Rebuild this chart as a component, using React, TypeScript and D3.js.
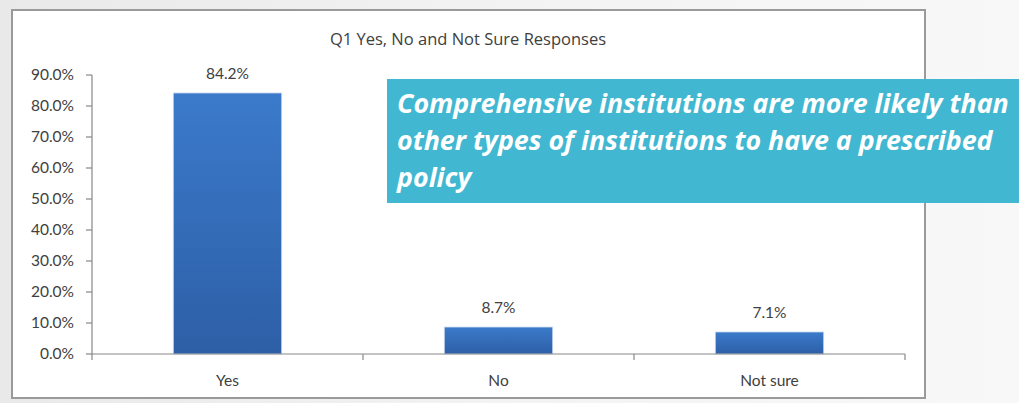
import React from "react";
import * as d3 from "d3";

const categories = ["Yes", "No", "Not sure"];
const values = [84.2, 8.7, 7.1];
const valueLabels = ["84.2%", "8.7%", "7.1%"];
const yTicks = [0, 10, 20, 30, 40, 50, 60, 70, 80, 90];
const chartTitle = "Q1 Yes, No and Not Sure Responses";
const calloutLines = [
  "Comprehensive institutions are more likely than",
  "other types of institutions to have a prescribed",
  "policy",
];

const W = 1019;
const H = 403;
const plot = { left: 92, right: 905, top: 75, bottom: 354 };

export default function App() {
  const x = d3
    .scaleBand<string>()
    .domain(categories)
    .range([plot.left, plot.right])
    .paddingInner(0.6)
    .paddingOuter(0.3);
  const y = d3.scaleLinear().domain([0, 90]).range([plot.bottom, plot.top]);
  const step = x.step();
  const boundaries = categories.map((_, i) => plot.left + i * step).concat([plot.right]);
  const font = "Lato, 'Open Sans', sans-serif";
  const wide = "'Open Sans', Lato, sans-serif";

  return (
    <div style={{ position: "fixed", left: 0, top: 0, width: W, height: H }}>
      <svg width={W} height={H} style={{ display: "block" }}>
        <defs>
          <linearGradient id="bg" x1="0" y1="0" x2="1" y2="0">
            <stop offset="0" stopColor="#e9e9e9" />
            <stop offset="0.5" stopColor="#f3f3f3" />
            <stop offset="1" stopColor="#f8f8f8" />
          </linearGradient>
          <linearGradient id="bar" x1="0" y1="0" x2="0" y2="1">
            <stop offset="0" stopColor="#3b7acb" />
            <stop offset="1" stopColor="#2d5fa6" />
          </linearGradient>
        </defs>
        <rect x={0} y={0} width={W} height={H} fill="url(#bg)" />
        <rect x={12} y={10} width={913} height={388} fill="#ffffff" stroke="#9a9a9a" strokeWidth={2} />

        <text x={468} y={45} textAnchor="middle" fontFamily={wide} fontSize={16.5} fill="#404040">
          {chartTitle}
        </text>

        {/* y axis */}
        <line x1={plot.left} x2={plot.left} y1={y(90)} y2={y(0)} stroke="#888" strokeWidth={1.2} />
        {yTicks.map((t) => (
          <g key={t}>
            <line x1={plot.left - 6} x2={plot.left} y1={y(t)} y2={y(t)} stroke="#888" strokeWidth={1.2} />
            <text
              x={plot.left - 18}
              y={y(t)}
              dy="0.35em"
              textAnchor="end"
              fontFamily={font}
              fontSize={15.5}
              fill="#404040"
            >
              {t.toFixed(1) + "%"}
            </text>
          </g>
        ))}

        {/* bars */}
        {categories.map((c, i) => (
          <g key={c}>
            <rect
              x={x(c)!}
              y={y(values[i])}
              width={x.bandwidth()}
              height={y(0) - y(values[i])}
              fill="url(#bar)"
              stroke="#c9d9ee"
              strokeWidth={0.8}
            />
            <text
              x={x(c)! + x.bandwidth() / 2}
              y={y(values[i]) - 14}
              textAnchor="middle"
              fontFamily={font}
              fontSize={15.5}
              fill="#404040"
            >
              {valueLabels[i]}
            </text>
            <text
              x={x(c)! + x.bandwidth() / 2}
              y={386}
              textAnchor="middle"
              fontFamily={font}
              fontSize={15.5}
              fill="#404040"
            >
              {c}
            </text>
          </g>
        ))}

        {/* x axis */}
        <line x1={plot.left} x2={plot.right} y1={y(0)} y2={y(0)} stroke="#888" strokeWidth={1.2} />
        {boundaries.map((b, i) => (
          <line key={i} x1={b} x2={b} y1={y(0)} y2={y(0) + 6} stroke="#888" strokeWidth={1.2} />
        ))}

        {/* callout */}
        <rect x={387} y={79} width={W - 387} height={124} fill="#41b7d1" />
        {calloutLines.map((l, i) => (
          <text
            key={i}
            x={397}
            y={113 + i * 37}
            fontFamily={wide}
            fontSize={26.8}
            fontWeight="bold"
            fontStyle="italic"
            fill="#ffffff"
          >
            {l}
          </text>
        ))}
      </svg>
    </div>
  );
}
